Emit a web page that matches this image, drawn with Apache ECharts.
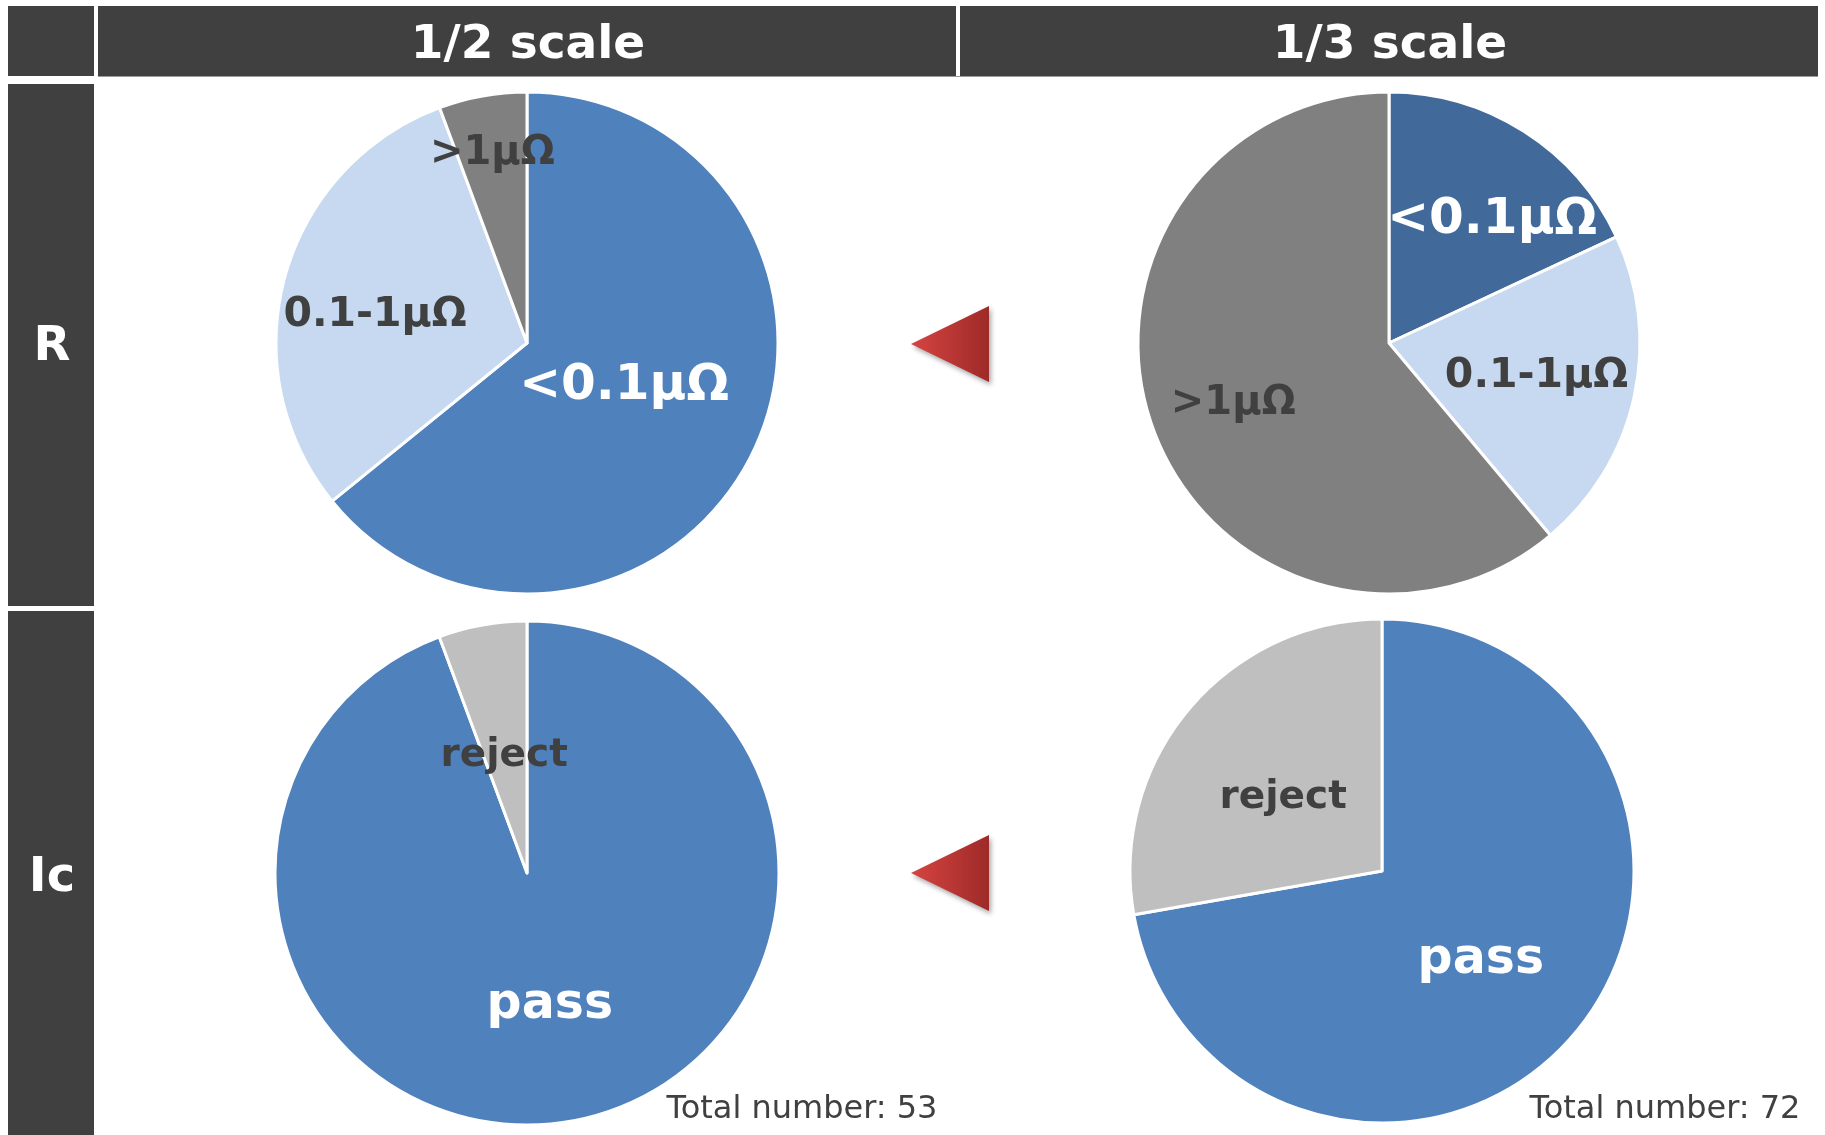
<!DOCTYPE html>
<html>
<head>
<meta charset="utf-8">
<title>R / Ic by scale</title>
<script src="https://cdn.jsdelivr.net/npm/echarts@6/dist/echarts.min.js"></script>
<style>
  html, body { margin: 0; padding: 0; background: #ffffff; }
  #chart { width: 1825px; height: 1135px; }
</style>
</head>
<body>
<div id="chart"></div>
<script>
// Column headers, row headers and sample totals
const scaleLabels = ['1/2 scale', '1/3 scale'];
const rowLabels = ['R', 'Ic'];
const totals = [53, 72];

// Resistance classes (counts per scale)
const rCategories = ['<0.1μΩ', '0.1-1μΩ', '>1μΩ'];
const rHalfScale = [34, 16, 3];
const rThirdScale = [13, 15, 44];

// Critical current test outcome (counts per scale)
const icCategories = ['pass', 'reject'];
const icHalfScale = [50, 3];
const icThirdScale = [52, 20];

const FONT = 'DejaVu Sans';
const DARK = '#404040';

const rColorsHalf = ['#4F81BD', '#C6D9F1', '#808080'];
const rColorsThird = ['#416A9B', '#C6D9F1', '#808080'];
const icColors = ['#4F81BD', '#BFBFBF'];

const rLabelStyle = [
  { color: '#ffffff', fontSize: 50 },
  { color: DARK, fontSize: 41 },
  { color: DARK, fontSize: 40 }
];
const icLabelStyle = [
  { color: '#ffffff', fontSize: 49 },
  { color: DARK, fontSize: 39 }
];

// Label nudges, [dx, dy] per slice
const rNudgeHalf = [[-19, -12], [-28, 6], [-12, -63]];
const rNudgeThird = [[34, -15], [22, 6], [-35, 17]];
const icNudgeHalf = [[0, 5], [0, 10]];
const icNudgeThird = [[0, 6], [0, 10]];

function buildData(categories, values, colors, labelStyles) {
  return categories.map((name, i) => ({
    name: name,
    value: values[i],
    itemStyle: { color: colors[i] },
    label: {
      color: labelStyles[i].color,
      fontSize: labelStyles[i].fontSize
    }
  }));
}

function pieSeries(center, radius, data, nudges) {
  return {
    type: 'pie',
    center: center,
    radius: radius,
    startAngle: 90,
    clockwise: true,
    silent: true,
    animation: false,
    itemStyle: { borderColor: '#ffffff', borderWidth: 3 },
    label: {
      show: true,
      position: 'inside',
      formatter: '{b}',
      fontFamily: FONT,
      fontWeight: 'bold'
    },
    labelLine: { show: false },
    labelLayout: function (params) {
      const n = nudges[params.dataIndex];
      return { dx: n[0], dy: n[1] };
    },
    emphasis: { disabled: true },
    data: data
  };
}

// Frame: dark header cells
const headerFill = '#404040';
const graphics = [
  { type: 'rect', shape: { x: 8, y: 6, width: 86, height: 70 }, style: { fill: headerFill } },
  { type: 'rect', shape: { x: 98, y: 6, width: 858, height: 70 }, style: { fill: headerFill } },
  { type: 'rect', shape: { x: 960, y: 6, width: 858, height: 70 }, style: { fill: headerFill } },
  { type: 'rect', shape: { x: 8, y: 84, width: 86, height: 522 }, style: { fill: headerFill } },
  { type: 'rect', shape: { x: 8, y: 611, width: 86, height: 524 }, style: { fill: headerFill } },
  { type: 'line', shape: { x1: 98, y1: 76.5, x2: 1818, y2: 76.5 }, style: { stroke: '#9a9a9a', lineWidth: 1 } }
];

// Column titles
[528, 1390].forEach((cx, i) => {
  graphics.push({
    type: 'text',
    x: cx, y: 46,
    style: {
      text: scaleLabels[i], fill: '#ffffff',
      font: 'bold 47px "' + FONT + '"',
      align: 'center', verticalAlign: 'middle'
    }
  });
});

// Row titles
[348, 879].forEach((cy, i) => {
  graphics.push({
    type: 'text',
    x: 52, y: cy,
    style: {
      text: rowLabels[i], fill: '#ffffff',
      font: 'bold 48px "' + FONT + '"',
      align: 'center', verticalAlign: 'middle'
    }
  });
});

// Totals under each column
[802, 1665].forEach((cx, i) => {
  graphics.push({
    type: 'text',
    x: cx, y: 1110,
    style: {
      text: 'Total number: ' + totals[i], fill: DARK,
      font: '32px "' + FONT + '"',
      align: 'center', verticalAlign: 'middle'
    }
  });
});

// Arrows pointing from the 1/3 column back to the 1/2 column
[344, 873].forEach((cy) => {
  graphics.push({
    type: 'polygon',
    shape: { points: [[911, cy], [989, cy - 38], [989, cy + 38]] },
    style: {
      fill: {
        type: 'linear', x: 0, y: 0, x2: 1, y2: 0,
        colorStops: [
          { offset: 0, color: '#D64442' },
          { offset: 1, color: '#9E2A28' }
        ]
      },
      shadowBlur: 5,
      shadowOffsetX: 2,
      shadowOffsetY: 3,
      shadowColor: 'rgba(0,0,0,0.35)'
    }
  });
});

const option = {
  backgroundColor: '#ffffff',
  animation: false,
  graphic: graphics,
  series: [
    pieSeries([527, 343], 251, buildData(rCategories, rHalfScale, rColorsHalf, rLabelStyle), rNudgeHalf),
    pieSeries([1389, 343], 251, buildData(rCategories, rThirdScale, rColorsThird, rLabelStyle), rNudgeThird),
    pieSeries([527, 873], 252, buildData(icCategories, icHalfScale, icColors, icLabelStyle), icNudgeHalf),
    pieSeries([1382, 871], 252, buildData(icCategories, icThirdScale, icColors, icLabelStyle), icNudgeThird)
  ]
};

const chart = echarts.init(document.getElementById('chart'), null, { renderer: 'canvas' });
chart.setOption(option);
</script>
</body>
</html>
